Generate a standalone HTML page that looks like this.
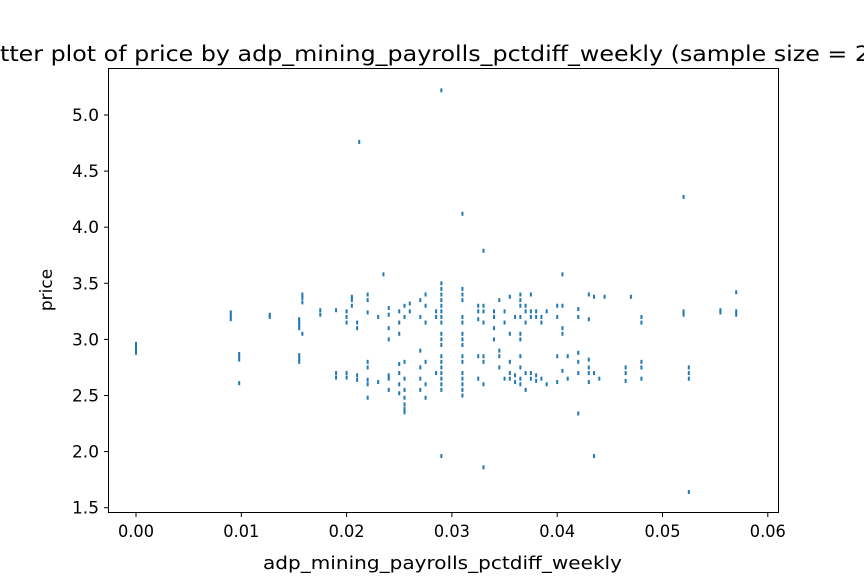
<!DOCTYPE html>
<html><head><meta charset="utf-8"><style>body{margin:0;background:#fff}svg{display:block}</style></head>
<body>
<svg id="chart" width="864" height="576" xmlns="http://www.w3.org/2000/svg" font-family="'DejaVu Sans', 'Liberation Sans', sans-serif">
<rect width="864" height="576" fill="#fff"/>
<text x="0" y="61" font-size="21" fill="#000" textLength="870" lengthAdjust="spacingAndGlyphs">tter plot of price by adp_mining_payrolls_pctdiff_weekly (sample size = 2</text>
<g id="points"></g>
<rect x="108.5" y="68.5" width="670" height="444" fill="none" stroke="#000" stroke-width="1"/>
<g id="axes"></g>
<text x="263" y="569" font-size="17.5" textLength="359" lengthAdjust="spacingAndGlyphs">adp_mining_payrolls_pctdiff_weekly</text>
<text transform="translate(52,290) rotate(-90)" font-size="17" text-anchor="middle">price</text>
</svg>
<script>
const xTicks=[0,0.01,0.02,0.03,0.04,0.05,0.06];
const xTickLabels=["0.00","0.01","0.02","0.03","0.04","0.05","0.06"];
const yTicks=[1.5,2.0,2.5,3.0,3.5,4.0,4.5,5.0];
const yTickLabels=["1.5","2.0","2.5","3.0","3.5","4.0","4.5","5.0"];
const colX=[0,0.009,0.0098,0.0127,0.0155,0.0158,0.0175,0.019,0.020,0.0205,0.021,0.0212,0.022,0.023,0.0235,0.024,0.025,0.0255,0.026,0.027,0.0275,0.0285,0.029,0.031,0.0325,0.033,0.034,0.0345,0.035,0.0355,0.036,0.0365,0.037,0.0375,0.038,0.0385,0.039,0.040,0.0405,0.041,0.042,0.043,0.0435,0.044,0.0445,0.0465,0.047,0.048,0.052,0.0525,0.0555,0.057];
const colY=[
[2.88,2.90,2.92,2.94,2.96],[3.18,3.21,3.24],[2.82,2.85,2.87,2.61],[3.20,3.22],
[3.10,3.13,3.16,3.18,2.80,2.83,2.86],[3.33,3.37,3.40,3.05],[3.22,3.26],[3.26,2.70,2.66],
[3.25,3.20,3.15,2.66,2.70],[3.30,3.35,3.38],[3.15,3.10,2.64,2.68],[4.76],
[3.24,3.40,3.35,2.75,2.80,2.60,2.64,2.48],[3.20,2.62],[3.58],
[3.22,3.28,3.10,3.00,2.68,2.65,2.55],[3.25,3.15,3.05,2.78,2.70,2.60,2.52],
[3.30,3.20,2.80,2.65,2.55,2.48,2.42,2.38,2.35],[3.25,3.32],
[3.35,3.20,2.90,2.75,2.65,2.55],[3.40,3.30,3.15,2.80,2.60,2.48],[3.25,3.20,2.70],
[3.50,3.45,3.40,3.35,3.30,3.25,3.20,3.15,3.05,3.00,2.95,2.85,2.80,2.75,2.70,2.65,2.60,2.55,1.96,5.22],
[3.45,3.40,3.35,3.20,3.15,3.05,3.00,2.95,2.85,2.80,2.70,2.65,2.60,2.55,2.50,4.12],
[3.30,3.25,3.18,2.85,2.65],[3.30,3.25,3.15,2.85,2.80,2.60,3.79,1.86],[3.25,3.20,3.10,3.00],
[3.35,2.90,2.85,2.75],[3.25,3.15,2.65],[3.38,3.05,2.80,2.70,2.65],[3.20,2.62,2.68],
[3.40,3.35,3.30,3.20,3.05,3.00,2.85,2.75,2.65,2.60],[3.30,3.25,3.15,2.70,2.55],
[3.40,3.25,3.20,2.65,2.70],[3.25,3.20,2.63,2.68],[3.20,3.15,2.65],[3.25,2.60],
[3.30,3.20,2.85,2.62],[3.58,3.30,3.10,3.05,2.72],[2.85,2.65],[3.27,3.20,2.88,2.80,2.70,2.34],
[3.40,3.18,2.82,2.75,2.70,2.62],[3.38,2.70,1.96],[2.65],[3.38],[2.75,2.70,2.63],[3.38],
[3.15,3.20,2.80,2.75,2.65],[3.25,3.22,4.27],[2.75,2.70,2.65,1.64],[3.26,3.24],[3.25,3.22,3.42]];
const NS="http://www.w3.org/2000/svg";
const sx=v=>136+v/0.01*105.3;
const sy=v=>115+(5.0-v)/0.5*56.1;
const pg=document.getElementById('points');
colX.forEach((xv,i)=>{colY[i].forEach(yv=>{
 const r=document.createElementNS(NS,'rect');
 
 
 r.setAttribute('x',(sx(xv)-1).toFixed(2));
 r.setAttribute('y',(sy(yv)-2).toFixed(2));
 r.setAttribute('width','2');r.setAttribute('height','4');
 r.setAttribute('fill','#1f77b4');pg.appendChild(r);});});
const ax=document.getElementById('axes');
xTicks.forEach((t,i)=>{const x=sx(t);
 const l=document.createElementNS(NS,'line');
 
 
 l.setAttribute('x1',x);l.setAttribute('x2',x);l.setAttribute('y1',512.5);l.setAttribute('y2',517);l.setAttribute('stroke','#000');ax.appendChild(l);
 const tx=document.createElementNS(NS,'text');
 
 
 tx.setAttribute('x',x-18);tx.setAttribute('y',537);tx.setAttribute('font-size','17');tx.setAttribute('textLength','36');tx.setAttribute('lengthAdjust','spacingAndGlyphs');tx.textContent=xTickLabels[i];ax.appendChild(tx);});
yTicks.forEach((t,i)=>{const y=sy(t);
 const l=document.createElementNS(NS,'line');
 
 
 l.setAttribute('x1',104);l.setAttribute('x2',108.5);l.setAttribute('y1',y);l.setAttribute('y2',y);l.setAttribute('stroke','#000');ax.appendChild(l);
 const tx=document.createElementNS(NS,'text');
 
 
 tx.setAttribute('x',72);tx.setAttribute('y',y+6);tx.setAttribute('font-size','17');tx.setAttribute('textLength','27');tx.setAttribute('lengthAdjust','spacingAndGlyphs');tx.textContent=yTickLabels[i];ax.appendChild(tx);});
</script>
</body></html>
